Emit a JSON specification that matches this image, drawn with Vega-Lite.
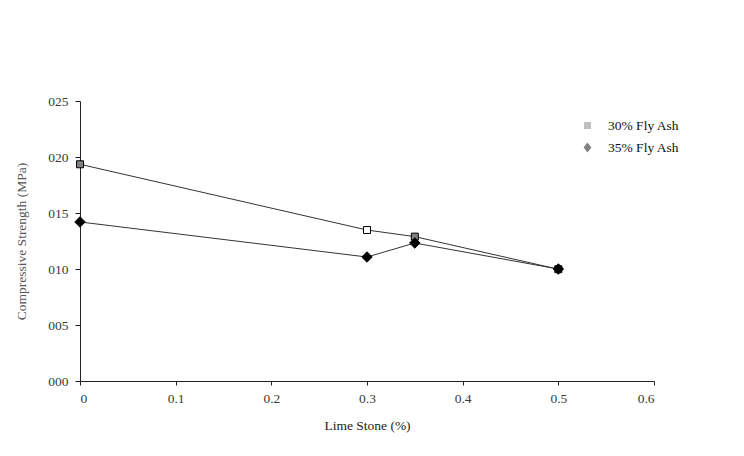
{
  "$schema": "https://vega.github.io/schema/vega-lite/v6.json",
  "width": 574,
  "height": 280,
  "padding": {"left": 80, "top": 101, "right": 90, "bottom": 75},
  "autosize": {"type": "none"},
  "background": "white",
  "config": {
    "view": {"stroke": null},
    "font": "Liberation Serif",
    "axis": {"labelFont": "Liberation Serif", "titleFont": "Liberation Serif", "labelFontSize": 13.5, "titleFontSize": 13.5, "titleFontWeight": "normal", "labelColor": "#3a3a3a", "domainColor": "#222", "tickColor": "#222", "grid": false},
    "legend": {"orient": "none", "legendX": 494, "legendY": 11, "symbolSize": 676, "symbolStrokeColor": "black", "symbolStrokeWidth": 1, "labelFontSize": 13.5, "labelFont": "Liberation Serif", "labelColor": "#111", "labelOffset": 7, "rowPadding": 2}
  },
  "data": {"values": [
    {"x": 0, "y": 0.1935, "series": "30% Fly Ash"},
    {"x": 0.3, "y": 0.1348, "series": "30% Fly Ash"},
    {"x": 0.35, "y": 0.1289, "series": "30% Fly Ash"},
    {"x": 0.5, "y": 0.0998, "series": "30% Fly Ash"},
    {"x": 0, "y": 0.142, "series": "35% Fly Ash"},
    {"x": 0.3, "y": 0.1107, "series": "35% Fly Ash"},
    {"x": 0.35, "y": 0.1232, "series": "35% Fly Ash"},
    {"x": 0.5, "y": 0.1, "series": "35% Fly Ash"}
  ]},
  "encoding": {
    "x": {"field": "x", "type": "quantitative", "scale": {"domain": [0, 0.6], "nice": false},
      "axis": {"title": "Lime Stone (%)", "values": [0, 0.1, 0.2, 0.3, 0.4, 0.5, 0.6], "format": "~g", "titleColor": "#222", "titlePadding": 14, "labelPadding": 6, "tickSize": 4}},
    "y": {"field": "y", "type": "quantitative", "scale": {"domain": [0, 0.25], "nice": false},
      "axis": {"title": "Compressive Strength (MPa)", "values": [0, 0.05, 0.1, 0.15, 0.2, 0.25], "labelExpr": "format(round(datum.value*100), '03d')", "titleColor": "#555", "titlePadding": 19, "labelPadding": 7, "tickSize": 5}}
  },
  "layer": [
    {
      "mark": {"type": "line", "stroke": "#333", "strokeWidth": 1},
      "encoding": {"detail": {"field": "series"}}
    },
    {
      "mark": {"type": "point", "filled": true, "stroke": "black", "strokeWidth": 1, "opacity": 1},
      "encoding": {
        "shape": {"condition": {"test": "datum.series === '35% Fly Ash'", "value": "diamond"}, "value": "square"},
        "size": {"condition": {"test": "datum.series === '35% Fly Ash'", "value": 110}, "value": 49},
        "fill": {"condition": [
            {"test": "datum.series === '35% Fly Ash'", "value": "black"},
            {"test": "datum.x === 0.3", "value": "white"}
          ], "value": "#808080"}
      }
    },
    {
      "mark": {"type": "point", "filled": true, "stroke": "black", "strokeWidth": 1, "size": 0},
      "encoding": {
        "shape": {"field": "series", "type": "nominal",
          "scale": {"domain": ["30% Fly Ash", "35% Fly Ash"], "range": ["M-1,0H-0.27M0.27,0H1M-0.27,-0.27H0.27V0.27H-0.27Z", "M-1,0H-0.3M0.3,0H1M0,-0.38L0.3,0L0,0.38L-0.3,0Z"]},
          "legend": {"title": null}},
        "fill": {"field": "series", "type": "nominal",
          "scale": {"domain": ["30% Fly Ash", "35% Fly Ash"], "range": ["#808080", "black"]},
          "legend": {"title": null}}
      }
    }
  ]
}
